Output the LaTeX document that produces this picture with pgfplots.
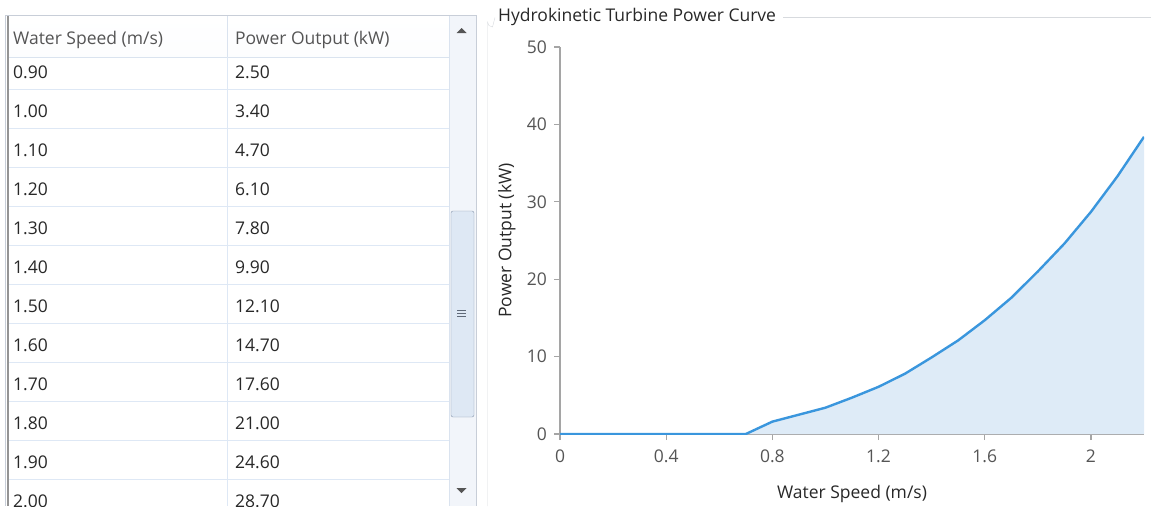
\documentclass[border=0pt]{standalone}
\usepackage{fontspec}
\setmainfont{Open Sans}
\usepackage{pgfplots}
\pgfplotsset{compat=1.18}
\usepackage{pgfplotstable}

\definecolor{linecol}{RGB}{58,150,221}
\definecolor{fillcol}{RGB}{222,235,247}
\definecolor{axcol}{RGB}{165,165,165}
\definecolor{txtcol}{RGB}{40,40,40}
\definecolor{hdrtxt}{RGB}{85,85,85}
\definecolor{gridcol}{RGB}{222,232,245}
\definecolor{bordcol}{RGB}{200,206,216}
\definecolor{boxcol}{RGB}{215,218,222}
\definecolor{thumbfill}{RGB}{222,232,244}
\definecolor{thumbdraw}{RGB}{135,150,172}
\definecolor{trackcol}{RGB}{242,245,250}

\pgfplotstableread{
speed power
0.0 0
0.1 0
0.2 0
0.3 0
0.4 0
0.5 0
0.6 0
0.7 0
0.8 1.6
0.9 2.5
1.0 3.4
1.1 4.7
1.2 6.1
1.3 7.8
1.4 9.9
1.5 12.1
1.6 14.7
1.7 17.6
1.8 21.0
1.9 24.6
2.0 28.7
2.1 33.3
2.2 38.4
}\powertable

\begin{document}
\begin{tikzpicture}
\fontsize{17.5bp}{21bp}\selectfont
\begin{scope}[x=1bp,y=-1bp]
\path[use as bounding box] (0,0) rectangle (1151,506);
\clip (0,0) rectangle (1151,506);
% ---------- table ----------
\fill[trackcol] (450,16) rectangle (476,506);
\fill[white] (9,57) rectangle (449,506);
\shade[top color=white,bottom color=white!92!gridcol] (9,16) rectangle (449,57);
\draw[bordcol] (5,15.5) -- (476.5,15.5) -- (476.5,506);
\draw[bordcol] (5.5,15) -- (5.5,506);
\draw[axcol!90!black, line width=2bp] (8,16) -- (8,506);
\draw[gridcol!80!bordcol] (9,57) -- (449,57);
\draw[gridcol!80!bordcol] (227,16) -- (227,57);
\draw[gridcol] (227,57) -- (227,506);
\draw[gridcol!80!bordcol] (449.5,16) -- (449.5,506);
\foreach \k in {0,...,10} {
  \draw[gridcol] (9,89+39*\k) -- (449,89+39*\k);
}
\node[anchor=west, text=hdrtxt, inner sep=0] at (13,40) {Water Speed (m/s)};
\node[anchor=west, text=hdrtxt, inner sep=0] at (235,40) {Power Output (kW)};
\foreach \s/\p [count=\i from 0] in {0.90/2.50,1.00/3.40,1.10/4.70,1.20/6.10,1.30/7.80,1.40/9.90,1.50/12.10,1.60/14.70,1.70/17.60,1.80/21.00,1.90/24.60,2.00/28.70} {
  \node[anchor=west, text=txtcol, inner sep=0] at (13,72+39*\i) {\s};
  \node[anchor=west, text=txtcol, inner sep=0] at (235,72+39*\i) {\p};
}
% scrollbar
\draw[thumbdraw, fill=thumbfill, rounded corners=2bp] (451,211) rectangle (474,417);
\draw[thumbdraw!70!black, line width=1bp] (457,310) -- (466,310) (457,313) -- (466,313) (457,316) -- (466,316);
\fill[hdrtxt] (456.5,33) -- (466.5,33) -- (461.5,28) -- cycle;
\fill[hdrtxt] (456.5,488) -- (466.5,488) -- (461.5,493) -- cycle;
% ---------- group box ----------
\draw[boxcol] (487.5,506) -- (487.5,22) arc[start angle=180,end angle=90,radius=5] -- (495,17.5);
\node[anchor=west, text=txtcol, inner sep=0] (title) at (498,17) {Hydrokinetic Turbine Power Curve};
\draw[boxcol] ([xshift=7bp]title.east |- 0,17.5) -- (1151,17.5);
\end{scope}
\begin{axis}[
  at={(560bp,-434bp)}, anchor=south west,
  scale only axis, width=584bp, height=387bp,
  xmin=0, xmax=2.2, ymin=0, ymax=50,
  axis lines=left,
  axis line style={-, axcol, line width=1.5bp},
  xtick={0,0.4,0.8,1.2,1.6,2},
  ytick={0,10,20,30,40,50},
  xticklabels={0,0.4,0.8,1.2,1.6,2},
  tick align=outside,
  major tick length=6bp,
  tick style={axcol, line width=1.2bp},
  /pgf/number format/assume math mode=true,
  ticklabel style={text=hdrtxt, font=\fontsize{17.5bp}{21bp}\selectfont},
  xticklabel style={yshift=-4bp},
  yticklabel style={xshift=-1bp},
  xlabel={Water Speed (m/s)},
  ylabel={Power Output (kW)},
  label style={text=txtcol, font=\fontsize{17.5bp}{21bp}\selectfont},
  xlabel style={at={(axis description cs:0.5,-0.155)}, anchor=center},
  ylabel style={at={(axis description cs:-0.091,0.5)}, anchor=center, rotate=0},
  clip=true,
]
\addplot[draw=none, fill=fillcol] table[x=speed,y=power]{\powertable} \closedcycle;
\addplot[linecol, line width=2.4bp] table[x=speed,y=power]{\powertable};
\end{axis}
\end{tikzpicture}
\end{document}
